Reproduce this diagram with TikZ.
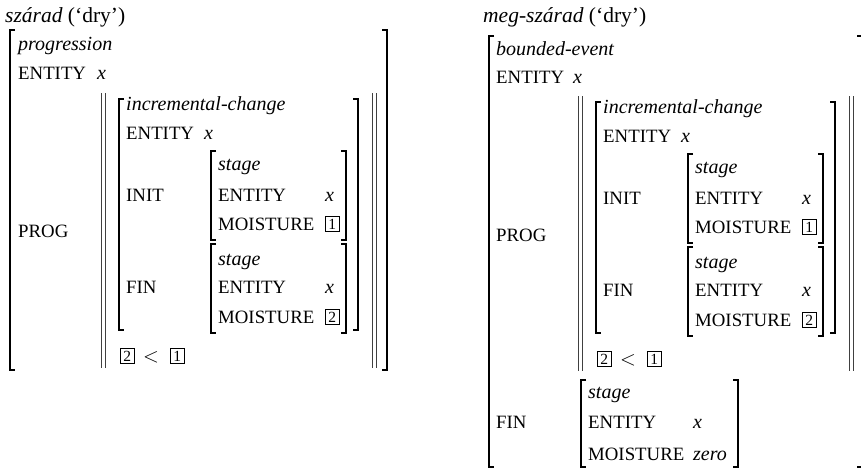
\documentclass[tikz,border=0pt]{standalone}
\usepackage{fontspec}
\setmainfont{Liberation Serif}
\usetikzlibrary{positioning}

\tikzset{
  attr/.style={anchor=base west, inner sep=0pt, font=\fontsize{18.8}{20}\selectfont},
  val/.style={anchor=base west, inner sep=0pt, font=\fontsize{20}{22}\selectfont\itshape},
  tag/.style={draw, line width=0.7pt, anchor=south west, inner sep=0pt,
              minimum width=14pt, minimum height=15pt, font=\fontsize{15.5}{15}\selectfont},
  less/.style={anchor=center, inner sep=0pt, font=\fontsize{22}{24}\selectfont},
  brk/.style={line width=1.3pt},
  bars/.style={line width=0.8pt, black!75},
}
% brackets: x, top y, bottom y
\newcommand{\lbrk}[3]{\draw[brk] (#1+5,#2) -- (#1,#2) -- (#1,#3) -- (#1+5,#3);}
\newcommand{\rbrk}[3]{\draw[brk] (#1-5,#2) -- (#1,#2) -- (#1,#3) -- (#1-5,#3);}
% double bar of a set value
\newcommand{\dbar}[3]{\draw[bars] (#1,#2) -- (#1,#3) (#1+4.5,#2) -- (#1+4.5,#3);}

\begin{document}
\begin{tikzpicture}[x=1pt, y=-1pt]
  \useasboundingbox (0,0) rectangle (861,469);

  % ---- szárad: progression ----
  \node[attr] (lTitle) at (5,22) {\fontsize{21.5}{24}\selectfont\textit{szárad} (‘dry’)};
  \lbrk{10}{30}{370} \rbrk{387}{30}{370}
  \node[val]  (lType)  at (18,50) {progression};
  \node[attr] (lEnt)   at (18,79) {ENTITY};
  \node[val]  (lEntV)  at (97,79) {x};
  \node[attr] (lProg)  at (18,237) {PROG};
  \dbar{101}{93}{368} \dbar{372}{93}{368}
  % incremental change inside the set
  \lbrk{119}{99}{330} \rbrk{358}{99}{330}
  \node[val]  (lIcType) at (126,110) {incremental-change};
  \node[attr] (lIcEnt)  at (126,139) {ENTITY};
  \node[val]  (lIcEntV) at (204,139) {x};
  \node[attr] (lInit)   at (126,201) {INIT};
  \lbrk{211}{151}{240} \rbrk{346}{151}{240}
  \node[val]  (lS1Type)  at (218,170) {stage};
  \node[attr] (lS1Ent)   at (218,201) {ENTITY};
  \node[val]  (lS1EntV)  at (325,201) {x};
  \node[attr] (lS1Moist) at (218,230) {MOISTURE};
  \node[tag]  (lS1Tag)   at (325,232) {1};
  \node[attr] (lFin)     at (126,293) {FIN};
  \lbrk{211}{244}{333} \rbrk{346}{244}{333}
  \node[val]  (lS2Type)  at (218,265) {stage};
  \node[attr] (lS2Ent)   at (218,293) {ENTITY};
  \node[val]  (lS2EntV)  at (325,293) {x};
  \node[attr] (lS2Moist) at (218,323) {MOISTURE};
  \node[tag]  (lS2Tag)   at (325,325) {2};
  % ordering of the two values
  \node[tag]  (lRelA)  at (120,364) {2};
  \node[less] (lRelLt) at (151,357) {$<$};
  \node[tag]  (lRelB)  at (170,364) {1};

  % ---- meg-szárad: bounded event ----
  \node[attr] (rTitle) at (483,22) {\fontsize{21.5}{24}\selectfont\textit{meg-szárad} (‘dry’)};
  \lbrk{489}{36}{467} \rbrk{862}{36}{467}
  \node[val]  (rType)  at (496,55) {bounded-event};
  \node[attr] (rEnt)   at (496,83) {ENTITY};
  \node[val]  (rEntV)  at (573,83) {x};
  \node[attr] (rProg)  at (496,241) {PROG};
  \begin{scope}[shift={(477,3)}]
    \dbar{101}{93}{368} \dbar{372}{93}{368}
    \lbrk{119}{99}{330} \rbrk{358}{99}{330}
    \node[val]  (rIcType) at (126,110) {incremental-change};
    \node[attr] (rIcEnt)  at (126,139) {ENTITY};
    \node[val]  (rIcEntV) at (204,139) {x};
    \node[attr] (rInit)   at (126,201) {INIT};
    \lbrk{211}{151}{240} \rbrk{346}{151}{240}
    \node[val]  (rS1Type)  at (218,170) {stage};
    \node[attr] (rS1Ent)   at (218,201) {ENTITY};
    \node[val]  (rS1EntV)  at (325,201) {x};
    \node[attr] (rS1Moist) at (218,230) {MOISTURE};
    \node[tag]  (rS1Tag)   at (325,232) {1};
    \node[attr] (rFinP)    at (126,293) {FIN};
    \lbrk{211}{244}{333} \rbrk{346}{244}{333}
    \node[val]  (rS2Type)  at (218,265) {stage};
    \node[attr] (rS2Ent)   at (218,293) {ENTITY};
    \node[val]  (rS2EntV)  at (325,293) {x};
    \node[attr] (rS2Moist) at (218,323) {MOISTURE};
    \node[tag]  (rS2Tag)   at (325,325) {2};
    \node[tag]  (rRelA)  at (120,364) {2};
    \node[less] (rRelLt) at (151,357) {$<$};
    \node[tag]  (rRelB)  at (170,364) {1};
  \end{scope}
  % final state of the event
  \node[attr] (rFin) at (496,428) {FIN};
  \lbrk{581}{380}{467} \rbrk{738}{380}{467}
  \node[val]  (rS3Type)  at (588,398) {stage};
  \node[attr] (rS3Ent)   at (588,428) {ENTITY};
  \node[val]  (rS3EntV)  at (693,428) {x};
  \node[attr] (rS3Moist) at (588,460) {MOISTURE};
  \node[val]  (rS3MoistV) at (693,460) {zero};
\end{tikzpicture}
\end{document}
